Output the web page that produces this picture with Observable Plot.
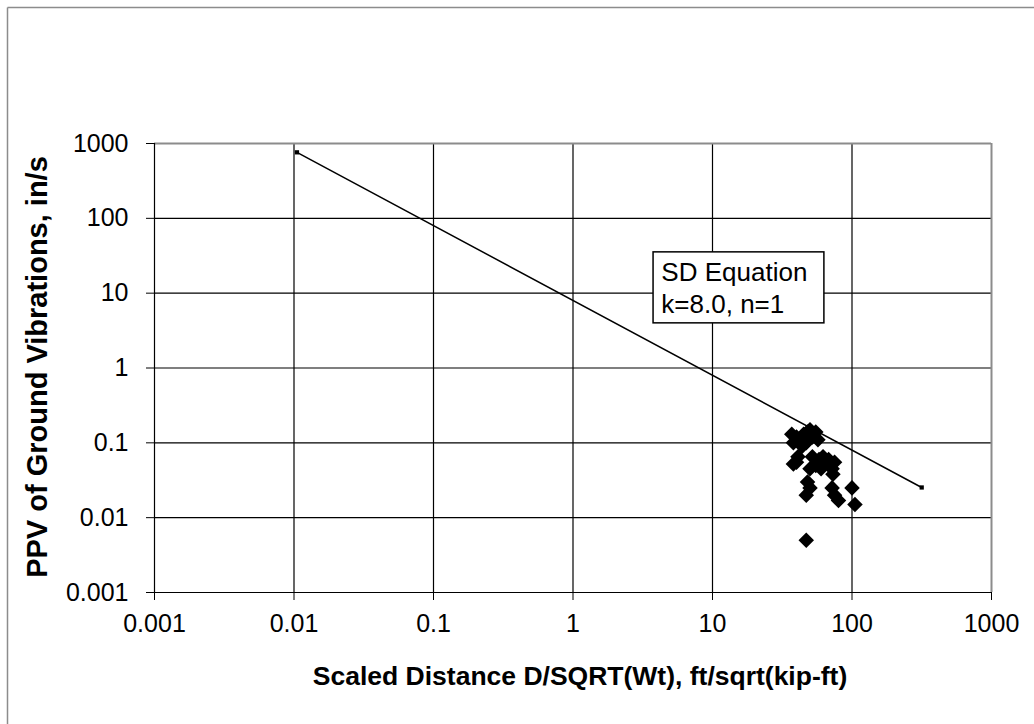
<!DOCTYPE html>
<html>
<head>
<meta charset="utf-8">
<script src="https://cdn.jsdelivr.net/npm/d3@7"></script>
<script src="https://cdn.jsdelivr.net/npm/@observablehq/plot@0.6"></script>
<style>
  html, body { margin: 0; padding: 0; background: #fff; }
  #chart { width: 1034px; height: 724px; position: relative; }
  #chart svg { display: block; }
</style>
</head>
<body>
<div id="chart"></div>
<script>
// Measured blasts: scaled distance (ft/sqrt(kip-ft)) and peak particle velocity (in/s)
const sd  = [37, 40, 38, 42, 45, 48, 50, 52, 55, 57, 47, 44, 41,
             38, 40, 52, 55, 50, 58, 62, 65, 68, 70, 75, 72, 60,
             48, 50, 47, 73, 72, 75, 80, 100, 105, 47];
const ppv = [0.13, 0.12, 0.10, 0.11, 0.13, 0.14, 0.15, 0.12, 0.14, 0.11, 0.10, 0.09, 0.065,
             0.052, 0.055, 0.065, 0.05, 0.045, 0.06, 0.065, 0.055, 0.06, 0.05, 0.055, 0.045, 0.045,
             0.03, 0.025, 0.02, 0.038, 0.025, 0.02, 0.017, 0.025, 0.015, 0.005];

// Scaled-distance equation PPV = k * SD^-n, drawn between its two end points
const k = 8.0, n = 1;
const lineSD = [0.0105, 316];
const linePPV = lineSD.map(s => k * Math.pow(s, -n));

const xTicks = [0.001, 0.01, 0.1, 1, 10, 100, 1000];
const yTicks = [0.001, 0.01, 0.1, 1, 10, 100, 1000];

const points = sd.map((s, i) => ({sd: s, ppv: ppv[i]}));
const eqLine = lineSD.map((s, i) => ({sd: s, ppv: linePPV[i]}));

const font = "'Liberation Sans', Arial, sans-serif";
const fmt = d => String(d);

const chart = Plot.plot({
  width: 1034,
  height: 724,
  marginLeft: 154,
  marginRight: 43,
  marginTop: 143,
  marginBottom: 132,
  style: {fontFamily: font, color: "#000", background: "#fff"},
  x: {type: "log", domain: [0.001, 1000]},
  y: {type: "log", domain: [0.001, 1000]},
  marks: [
    // grid
    Plot.ruleX(xTicks.slice(1, -1), {stroke: "#000", strokeWidth: 1.2}),
    Plot.ruleY(yTicks.slice(1, -1), {stroke: "#000", strokeWidth: 1.2}),
    // plot area frame: grey top and right, black axes left and bottom
    Plot.ruleY([1000], {stroke: "#8c8c8c", strokeWidth: 2}),
    Plot.ruleX([1000], {stroke: "#8c8c8c", strokeWidth: 2}),
    Plot.ruleX([0.001], {stroke: "#000", strokeWidth: 1.2}),
    Plot.ruleY([0.001], {stroke: "#000", strokeWidth: 1.2}),
    Plot.axisX({ticks: xTicks, tickFormat: fmt, tickSize: 8, tickPadding: 14,
                fontSize: 25, label: null, stroke: "#000"}),
    Plot.axisY({ticks: yTicks, tickFormat: fmt, tickSize: 8, tickPadding: 18,
                fontSize: 25, label: null, stroke: "#000"}),
    // equation line with its end markers
    Plot.line(eqLine, {x: "sd", y: "ppv", stroke: "#000", strokeWidth: 1.5}),
    Plot.dot(eqLine, {x: "sd", y: "ppv", symbol: "square", r: 2.4, fill: "#000", stroke: null}),
    // measured data
    Plot.dot(points, {x: "sd", y: "ppv", symbol: "diamond2", r: 7, fill: "#000", stroke: null}),
    // equation annotation box
    Plot.rect([{x1: 3.78, x2: 63.4, y1: 35.1, y2: 3.95}],
              {x1: "x1", x2: "x2", y1: "y1", y2: "y2", fill: "#fff", stroke: "#000", strokeWidth: 1.5}),
    Plot.text(["SD Equation", "k=8.0, n=1"], {
      x: [4.3, 4.3], y: [19, 7.1], text: d => d,
      textAnchor: "start", lineAnchor: "middle", fontSize: 26, fill: "#000"
    }),
    // axis titles
    Plot.text(["Scaled Distance D/SQRT(Wt), ft/sqrt(kip-ft)"], {
      frameAnchor: "bottom", dx: 7, dy: 84, textAnchor: "middle", lineAnchor: "middle",
      fontSize: 26.5, fontWeight: "bold", fill: "#000"
    }),
    Plot.text(["PPV of Ground Vibrations, in/s"], {
      frameAnchor: "left", dx: -117, dy: -1, rotate: -90, textAnchor: "middle", lineAnchor: "middle",
      fontSize: 29, fontWeight: "bold", fill: "#000"
    })
  ]
});

// outer chart border (top and left edges)
const svg = d3.select(chart);
svg.append("line").attr("x1", 7.5).attr("x2", 1034).attr("y1", 7.5).attr("y2", 7.5)
  .attr("stroke", "#8c8c8c").attr("stroke-width", 1.5);
svg.append("line").attr("x1", 7.5).attr("x2", 7.5).attr("y1", 7.5).attr("y2", 724)
  .attr("stroke", "#8c8c8c").attr("stroke-width", 1.5);

document.getElementById("chart").appendChild(chart);
</script>
</body>
</html>
